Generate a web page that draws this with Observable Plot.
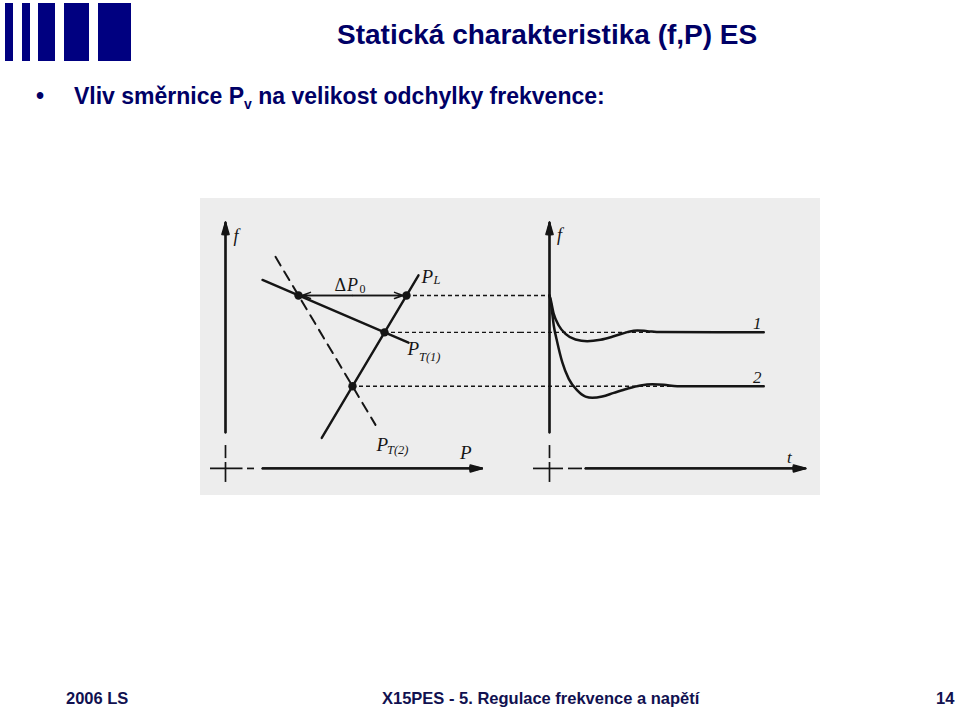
<!DOCTYPE html>
<html><head><meta charset="utf-8">
<script src="https://cdn.jsdelivr.net/npm/d3@7"></script>
<script src="https://cdn.jsdelivr.net/npm/@observablehq/plot@0.6"></script>
<style>
body{margin:0;width:960px;height:712px;position:relative;background:#fff;font-family:"Liberation Sans",Arial,sans-serif;overflow:hidden}
.abs{position:absolute;white-space:nowrap;line-height:1}
.bar{position:absolute;background:#000080;top:3px;height:58px}
#title{left:337px;top:21px;font-size:28px;font-weight:bold;color:#000066}
#bullet{left:36px;top:85px;font-size:23px;font-weight:bold;color:#000066}
#line1{left:74px;top:85px;font-size:23px;font-weight:bold;color:#000066}
.foot{top:690px;font-size:16.5px;font-weight:bold;color:#111150}
#diagram{position:absolute;left:200px;top:198px;width:620px;height:297px;background:#ededed}
#diagram svg{position:absolute;top:0}
</style></head><body>
<div class="bar" style="left:5px;width:8px"></div>
<div class="bar" style="left:22px;width:8px"></div>
<div class="bar" style="left:38px;width:17px"></div>
<div class="bar" style="left:64px;width:25px"></div>
<div class="bar" style="left:98px;width:33px"></div>
<div id="title" class="abs">Statická charakteristika (f,P) ES</div>
<div id="bullet" class="abs">•</div>
<div id="line1" class="abs">Vliv směrnice P<span style="font-size:14px;position:relative;top:5px">v</span> na velikost odchylky frekvence:</div>
<div class="abs foot" style="left:66px">2006 LS</div>
<div class="abs foot" style="left:382px">X15PES - 5. Regulace frekvence a napětí</div>
<div class="abs foot" style="left:936px">14</div>
<div id="diagram"></div>
<script>
// ---- data (abstract units: P / t horizontal, f vertical) ----
const fLevels = [70.3, 55.3, 33.4];            // f0, f1 (curve 1), f2 (curve 2)
const pointP = [29.2, 72.4, 63.6, 50.8];       // marked intersections
const pointF = [70.3, 70.3, 55.3, 33.4];
const pt1P = [14.8, 73.2], pt1F = [76.6, 51.1]; // P_T(1) characteristic
const pt2P = [20, 60],     pt2F = [86.0, 17.7]; // P_T(2) characteristic (dashed)
const plP  = [38.5, 77.2], plF  = [12.4, 78.5]; // P_L load characteristic
const deltaP = [29.2, 72.4];                   // ΔP0 span at f0
const curve1T = [0, 0.4, 1.7, 3.7, 6.4, 10.4, 15.1, 20.4, 25.7, 31.1, 35.1, 39.1, 44.4, 85.7];
const curve1F = [70.3, 68.9, 62.8, 58.1, 54.7, 52.4, 51.7, 52.3, 53.7, 55.4, 56.1, 55.8, 55.4, 55.3];
const curve2T = [0, 0.7, 1.7, 3.1, 5.1, 7.7, 11.1, 14.4, 17.1, 21.1, 25.7, 31.1, 36.4, 41.1, 45.7, 51.1, 85.7];
const curve2F = [70.3, 66.2, 58.1, 51.3, 43.2, 36.4, 31.7, 29.2, 28.7, 29.2, 30.7, 32.4, 33.7, 34.2, 34.0, 33.4, 33.4];
// axis pieces: [start, end] along each axis
const vSolid = [14.6, 100], vDash = [4.0, 9.3], vCross = [-5.7, 2.4];
const hLeftSolid = [14.8, 102.7], hLeftDash = [8.8, 11.6], hLeftCross = [-6, 7];
const hRightSolid = [14.4, 102.4], hRightDash = [7.6, 13.2], hRightCross = [-6.4, 5.6];
const xLeftDomain = [-10, 118], xRightDomain = [-11.6, 108.4], yDomain = [-11, 109.7];

const ink = "#151515";
const serif = "Liberation Serif, Times New Roman, serif";
const zip = (xs, ys) => xs.map((x, i) => ({x, y: ys[i]}));

// filled-looking arrowhead: several arrows with narrowing wings
const arrowAngles = [32, 22, 12, 4];
function axisArrow(o) {
  return arrowAngles.map((a) => Plot.arrow([0], {...o, stroke: ink, strokeWidth: 1.7, headLength: 11, headAngle: a}));
}
function axisMarks(hSolid, hDash, hCross) {
  return [
    ...axisArrow({x1: 0, x2: 0, y1: vSolid[0], y2: vSolid[1]}),
    Plot.ruleX([0], {y1: vDash[0], y2: vDash[1], stroke: ink, strokeWidth: 1.7}),
    Plot.ruleX([0], {y1: vCross[0], y2: vCross[1], stroke: ink, strokeWidth: 1.7}),
    ...axisArrow({y1: 0, y2: 0, x1: hSolid[0], x2: hSolid[1]}),
    Plot.ruleY([0], {x1: hDash[0], x2: hDash[1], stroke: ink, strokeWidth: 1.7}),
    Plot.ruleY([0], {x1: hCross[0], x2: hCross[1], stroke: ink, strokeWidth: 1.7})
  ];
}
const txt = (data, o) => Plot.text(data, {x: "x", y: "y", text: "s", fill: ink, fontFamily: serif, textAnchor: "start", ...o});

const pts = zip(pointP, pointF);
const mid = (deltaP[0] + deltaP[1]) / 2;

const left = Plot.plot({
  width: 320, height: 297, margin: 0,
  x: {domain: xLeftDomain, axis: null},
  y: {domain: yDomain, axis: null},
  style: {background: "transparent", overflow: "visible"},
  marks: [
    Plot.ruleY(pts.slice(1), {y: "y", x1: "x", x2: xLeftDomain[1], stroke: ink, strokeWidth: 1.4, strokeDasharray: "4,3"}),
    ...axisMarks(hLeftSolid, hLeftDash, hLeftCross),
    Plot.line(zip(pt2P, pt2F), {x: "x", y: "y", stroke: ink, strokeWidth: 2, strokeDasharray: "10,7"}),
    Plot.line(zip(pt1P, pt1F), {x: "x", y: "y", stroke: ink, strokeWidth: 2.4}),
    Plot.line(zip(plP, plF), {x: "x", y: "y", stroke: ink, strokeWidth: 2.4}),
    Plot.ruleY([fLevels[0]], {x1: deltaP[0], x2: deltaP[1], stroke: ink, strokeWidth: 1.4}),
    Plot.arrow([0], {x1: mid, x2: deltaP[0] + 1.4, y1: fLevels[0], y2: fLevels[0], stroke: ink, strokeWidth: 1.5, headLength: 9, headAngle: 40}),
    Plot.arrow([0], {x1: mid, x2: deltaP[1] - 1.4, y1: fLevels[0], y2: fLevels[0], stroke: ink, strokeWidth: 1.5, headLength: 9, headAngle: 40}),
    Plot.dot(pts, {x: "x", y: "y", r: 4.2, fill: ink}),
    txt([{x: 3.2, y: 94.3, s: "f"}], {fontSize: 18, fontStyle: "italic"}),
    txt([{x: 43.6, y: 74.6, s: "Δ"}], {fontSize: 18}),
    txt([{x: 48.6, y: 74.6, s: "P"}], {fontSize: 18, fontStyle: "italic"}),
    txt([{x: 53.6, y: 72.8, s: "0"}], {fontSize: 12}),
    txt([{x: 78.4, y: 78.0, s: "P"}], {fontSize: 19, fontStyle: "italic"}),
    txt([{x: 83.2, y: 76.4, s: "L"}], {fontSize: 12.5, fontStyle: "italic"}),
    txt([{x: 72.8, y: 48.5, s: "P"}], {fontSize: 19, fontStyle: "italic"}),
    txt([{x: 77.4, y: 45.4, s: "T(1)"}], {fontSize: 12.5, fontStyle: "italic"}),
    txt([{x: 60.4, y: 9.7, s: "P"}], {fontSize: 19, fontStyle: "italic"}),
    txt([{x: 64.6, y: 7.4, s: "T(2)"}], {fontSize: 12.5, fontStyle: "italic"}),
    txt([{x: 93.8, y: 6.3, s: "P"}], {fontSize: 19, fontStyle: "italic"})
  ]
});

const right = Plot.plot({
  width: 300, height: 297, margin: 0,
  x: {domain: xRightDomain, axis: null},
  y: {domain: yDomain, axis: null},
  style: {background: "transparent", overflow: "visible"},
  marks: [
    Plot.ruleY([fLevels[0]], {x1: xRightDomain[0], x2: 0, stroke: ink, strokeWidth: 1.4, strokeDasharray: "4,3"}),
    Plot.ruleY(fLevels.slice(1), {x1: xRightDomain[0], x2: curve1T[curve1T.length - 1], stroke: ink, strokeWidth: 1.4, strokeDasharray: "4,3"}),
    ...axisMarks(hRightSolid, hRightDash, hRightCross),
    Plot.line(zip(curve1T, curve1F), {x: "x", y: "y", stroke: ink, strokeWidth: 2.5, curve: "monotone-x"}),
    Plot.line(zip(curve2T, curve2F), {x: "x", y: "y", stroke: ink, strokeWidth: 2.5, curve: "monotone-x"}),
    txt([{x: 3.0, y: 94.7, s: "f"}], {fontSize: 18, fontStyle: "italic"}),
    txt([{x: 95.0, y: 4.6, s: "t"}], {fontSize: 17, fontStyle: "italic"}),
    txt([{x: 81.4, y: 59.0, s: "1"}], {fontSize: 17, fontStyle: "italic"}),
    txt([{x: 81.4, y: 36.8, s: "2"}], {fontSize: 17, fontStyle: "italic"})
  ]
});
right.style.left = "320px";
left.style.left = "0px";
const d = document.getElementById("diagram");
d.appendChild(left);
d.appendChild(right);
</script>
</body></html>
